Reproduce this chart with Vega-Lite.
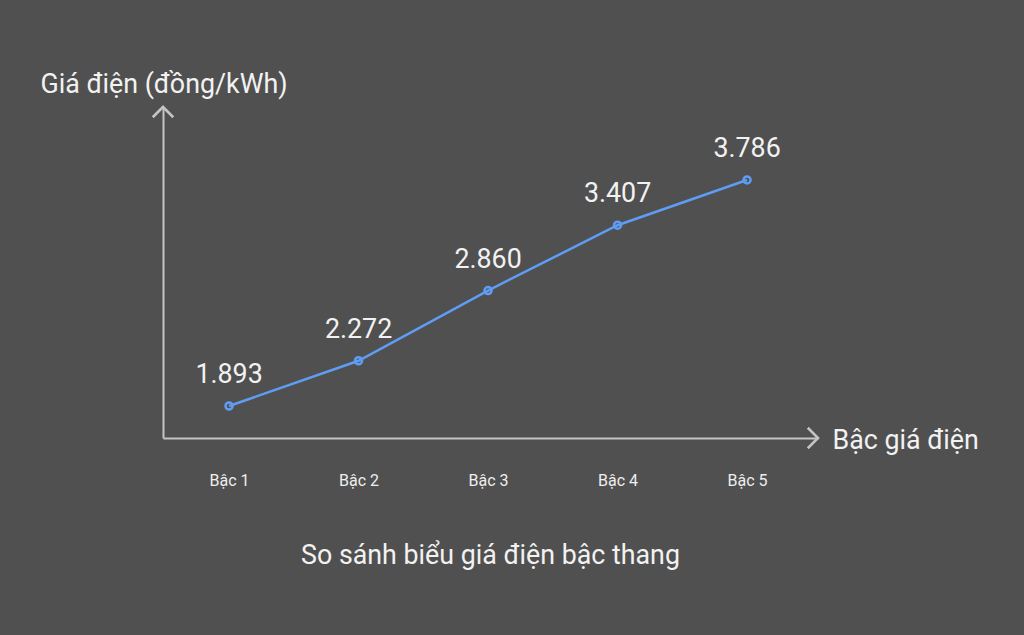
{
  "$schema": "https://vega.github.io/schema/vega-lite/v6.json",
  "autosize": {"type": "none"},
  "width": 655,
  "height": 331,
  "padding": {"left": 163, "top": 107, "right": 206, "bottom": 197},
  "background": "#505050",
  "config": {
    "view": {"stroke": null},
    "font": "Roboto",
    "locale": {"number": {"decimal": ",", "thousands": ".", "grouping": [3], "currency": ["", " đ"]}}
  },
  "title": {
    "text": "So sánh biểu giá điện bậc thang",
    "orient": "bottom",
    "anchor": "middle",
    "fontSize": 26.8,
    "fontWeight": "normal",
    "color": "#f2f2f2",
    "font": "Roboto",
    "offset": 55
  },
  "data": {
    "values": [
      {"bac": 1, "gia": 1893},
      {"bac": 2, "gia": 2272},
      {"bac": 3, "gia": 2860},
      {"bac": 4, "gia": 3407},
      {"bac": 5, "gia": 3786}
    ]
  },
  "encoding": {
    "x": {
      "field": "bac",
      "type": "quantitative",
      "scale": {"domain": [0.49, 5.548], "nice": false, "zero": false},
      "axis": {
        "values": [1, 2, 3, 4, 5],
        "labelExpr": "'Bậc ' + datum.value",
        "ticks": false,
        "grid": false,
        "labelPadding": 34,
        "labelFontSize": 16,
        "labelColor": "#eeeeee",
        "labelFont": "Roboto",
        "domainColor": "#c4c4c4",
        "domainWidth": 2,
        "title": "Bậc giá điện",
        "titleFontSize": 26.8,
        "titleFontWeight": "normal",
        "titleColor": "#f2f2f2",
        "titleFont": "Roboto",
        "titleAlign": "left",
        "titleBaseline": "middle",
        "titleX": 669,
        "titleY": 2,
        "titleAngle": 0
      }
    },
    "y": {
      "field": "gia",
      "type": "quantitative",
      "scale": {"domain": [1625, 4397], "nice": false, "zero": false},
      "axis": {
        "labels": false,
        "ticks": false,
        "grid": false,
        "domainColor": "#c4c4c4",
        "domainWidth": 2,
        "title": "Giá điện (đồng/kWh)",
        "titleFontSize": 26.8,
        "titleFontWeight": "normal",
        "titleColor": "#f2f2f2",
        "titleFont": "Roboto",
        "titleAngle": 0,
        "titleAlign": "left",
        "titleBaseline": "middle",
        "titleX": -123,
        "titleY": -23
      }
    }
  },
  "layer": [
    {
      "mark": {"type": "line", "color": "#5f9cf3", "strokeWidth": 2.5}
    },
    {
      "mark": {"type": "point", "filled": false, "color": "#5f9cf3", "strokeWidth": 2.5, "size": 50, "opacity": 1}
    },
    {
      "mark": {"type": "text", "dy": -31, "fontSize": 26.8, "color": "#f2f2f2", "font": "Roboto", "baseline": "middle"},
      "encoding": {"text": {"field": "gia", "type": "quantitative", "format": ","}}
    },
    {
      "mark": {"type": "point", "shape": "M -1 -1 L 0 0 L -1 1", "filled": false, "stroke": "#c4c4c4", "strokeWidth": 2, "size": 400, "opacity": 1},
      "encoding": {"x": {"datum": 5.548}, "y": {"datum": 1625}}
    },
    {
      "mark": {"type": "point", "shape": "M -1 1 L 0 0 L 1 1", "filled": false, "stroke": "#c4c4c4", "strokeWidth": 2, "size": 400, "opacity": 1},
      "encoding": {"x": {"datum": 0.49}, "y": {"datum": 4397}}
    }
  ]
}
